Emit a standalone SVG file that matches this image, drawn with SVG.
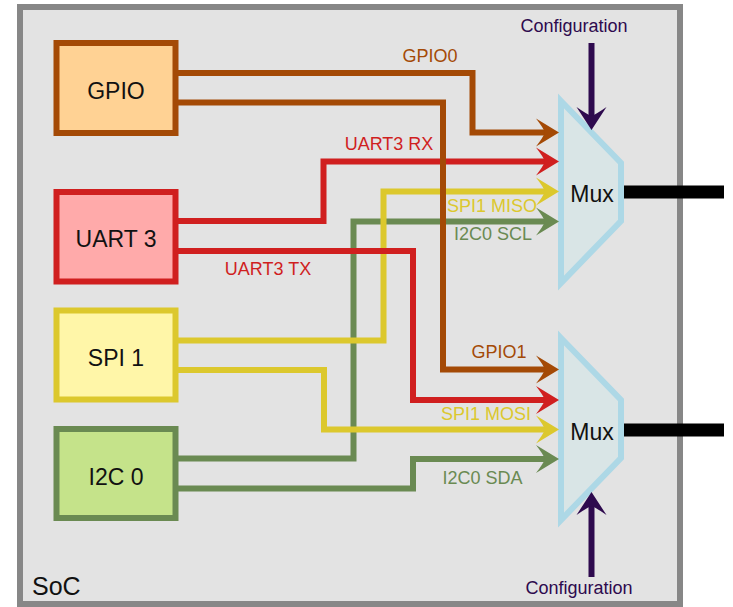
<svg xmlns="http://www.w3.org/2000/svg" width="733" height="607" viewBox="0 0 733 607">
<style>
text{font-family:"Liberation Sans","Noto Sans",Arial,sans-serif}
.node{stroke-width:6}
.lbl{font-size:23px;fill:#111;text-anchor:middle}
.sig{font-size:18px;text-anchor:middle}
.w{fill:none;stroke-width:6;stroke-linejoin:miter;stroke-linecap:butt}
.mux{fill:#d9e5e6;stroke:#add8e6;stroke-width:6;stroke-linejoin:miter}
.out{stroke:#000;stroke-width:13;fill:none}
.cfg{stroke:#2e0a4e;stroke-width:6;fill:none}
</style>
<defs>
<marker id="aB" markerUnits="userSpaceOnUse" viewBox="-10 -15 25 30" markerWidth="25" markerHeight="30" refX="0" refY="0" orient="auto"><path d="M14,0 L-9,-14 Q-2,-5 0,0 Q-2,5 -9,14 Z" fill="#a44a06"/></marker>
<marker id="aR" markerUnits="userSpaceOnUse" viewBox="-10 -15 25 30" markerWidth="25" markerHeight="30" refX="0" refY="0" orient="auto"><path d="M14,0 L-9,-14 Q-2,-5 0,0 Q-2,5 -9,14 Z" fill="#d01f1f"/></marker>
<marker id="aY" markerUnits="userSpaceOnUse" viewBox="-10 -15 25 30" markerWidth="25" markerHeight="30" refX="0" refY="0" orient="auto"><path d="M14,0 L-9,-14 Q-2,-5 0,0 Q-2,5 -9,14 Z" fill="#dcc82d"/></marker>
<marker id="aG" markerUnits="userSpaceOnUse" viewBox="-10 -15 25 30" markerWidth="25" markerHeight="30" refX="0" refY="0" orient="auto"><path d="M14,0 L-9,-14 Q-2,-5 0,0 Q-2,5 -9,14 Z" fill="#6a8a52"/></marker>
<marker id="aP" markerUnits="userSpaceOnUse" viewBox="-10 -16 25 32" markerWidth="25" markerHeight="32" refX="0" refY="0" orient="auto"><path d="M14,0 L-9,-15 Q-2,-5 0,0 Q-2,5 -9,15 Z" fill="#2e0a4e"/></marker>
</defs>
<rect width="733" height="607" fill="#fff"/>
<g id="soc">
<rect x="20" y="7" width="660" height="597" fill="#e3e3e3" stroke="#878787" stroke-width="6"/>
<text x="32" y="595" style="font-size:25px;fill:#111">SoC</text>
</g>
<g id="gpio">
<rect class="node" x="56.5" y="43" width="119" height="90" fill="#ffd294" stroke="#a44a06"/>
<text class="lbl" x="116" y="99">GPIO</text>
</g>
<g id="uart3">
<rect class="node" x="56.5" y="192" width="119" height="89.5" fill="#ffaaaa" stroke="#d01f1f"/>
<text class="lbl" x="116" y="247">UART 3</text>
</g>
<g id="spi1">
<rect class="node" x="56.5" y="310.5" width="119" height="89" fill="#fff6a8" stroke="#dcc82d"/>
<text class="lbl" x="116" y="366">SPI 1</text>
</g>
<g id="i2c0">
<rect class="node" x="56.5" y="429" width="119" height="89" fill="#c5e38a" stroke="#6a8a52"/>
<text class="lbl" x="116" y="485">I2C 0</text>
</g>
<g id="mux1">
<polygon class="mux" points="561,101 621,163 621,221 561,283"/>
<text class="lbl" x="592" y="201.5">Mux</text>
</g>
<g id="mux2">
<polygon class="mux" points="561,338 621,400 621,458 561,520"/>
<text class="lbl" x="592" y="439.5">Mux</text>
</g>
<g id="connectors">
<path class="w" stroke="#6a8a52" d="M178,458.5 H353.5 V221.5 H545" marker-end="url(#aG)"/>
<path class="w" stroke="#6a8a52" d="M178,488.5 H413 V459 H545" marker-end="url(#aG)"/>
<path class="w" stroke="#dcc82d" d="M178,340.5 H383.5 V191.5 H545" marker-end="url(#aY)"/>
<path class="w" stroke="#dcc82d" d="M178,370 H324 V429.5 H545" marker-end="url(#aY)"/>
<path class="w" stroke="#d01f1f" d="M178,221 H323.5 V161.5 H545" marker-end="url(#aR)"/>
<path class="w" stroke="#d01f1f" d="M178,251 H413 V400 H545" marker-end="url(#aR)"/>
<path class="w" stroke="#a44a06" d="M178,73 H472.5 V132.5 H545" marker-end="url(#aB)"/>
<path class="w" stroke="#a44a06" d="M178,102.5 H443 V369.5 H545" marker-end="url(#aB)"/>
<path class="out" d="M624,192 H724"/>
<path class="out" d="M624,430 H724"/>
<path class="cfg" d="M591.5,43 V116" marker-end="url(#aP)"/>
<path class="cfg" d="M591.5,577 V506" marker-end="url(#aP)"/>
<text class="sig" x="430" y="62" fill="#a44a06">GPIO0</text>
<text class="sig" x="389" y="150" fill="#d01f1f">UART3 RX</text>
<text class="sig" x="492" y="212" fill="#dcc82d">SPI1 MISO</text>
<text class="sig" x="493" y="240" fill="#6a8a52">I2C0 SCL</text>
<text class="sig" x="268" y="275" fill="#d01f1f">UART3 TX</text>
<text class="sig" x="499" y="358" fill="#a44a06">GPIO1</text>
<text class="sig" x="486" y="420" fill="#dcc82d">SPI1 MOSI</text>
<text class="sig" x="482.5" y="484" fill="#6a8a52">I2C0 SDA</text>
<text class="sig" x="574" y="32" fill="#2e0a4e">Configuration</text>
<text class="sig" x="579" y="594" fill="#2e0a4e">Configuration</text>
</g>
</svg>
